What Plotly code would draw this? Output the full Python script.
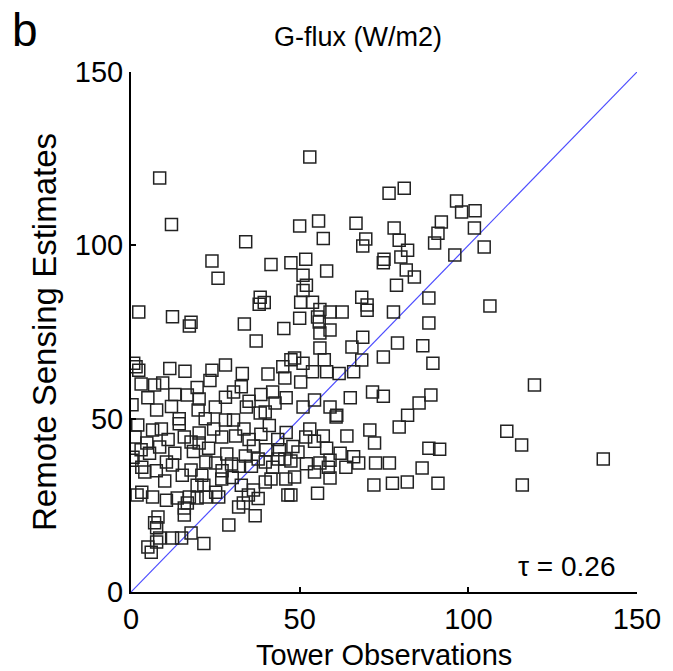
import plotly.graph_objects as go

# Tower observations (x) and remote sensing estimates (y), G-flux W/m2
tower_obs = [
    8.5, 53, 12, 34, 50, 55.6, 57, 66.7, 69.6, 68.7, 76.5, 81, 78, 79.5, 82, 75, 80, 96.5, 98, 102,
    92, 91, 90, 101.8, 104.7, 96, 24, 25.8, 41.5, 47.4, 51.8, 58, 51, 52, 51, 2.3, 12.3, 17.3, 17.8, 33.6,
    37.1, 38.3, 38, 39.5, 45.3, 50.3, 53.8, 50, 55.3, 56, 59, 62.6, 55.8, 59, 56, 68.4, 70, 70, 74.8, 81.6,
    84, 78.7, 88.3, 77.8, 88.3, 106.4, 119.6, 56, 65.5, 68.7, 68.4, 74.8, 79, 86.5, 89.5, 66, 57.3, 48.5, 51, 58,
    53.8, 50.3, 61.7, 65, 71.6, 74.8, 54.4, 51, 59, 61, 85.4, 88.9, 82, 111.4, 115.8, 116, 140, 79.5, 70.8, 72.2,
    88.3, 91.5, 86.3, 91, 60.8, 62, 67.5, 72.5, 76.6, 63.7, 72, 77.5, 81.9, 55.3, 59, 47.4, 54.4, 54.4, 48.5, 49.5,
    51.8, 59, 56, 2.3, 0.8, 1.5, 0.3, 16, 28, 7, 9.4, 19.6, 23.4, 16.7, 20.2, 7.6, 40.6, 45, 45.6, 47.4,
    42, 46, 28, 30.4, 32.7, 25, 34.2, 38.3, 39.8, 42.7, 14.3, 5, 6, 8.5, 7.6, 12.3, 15, 21.6, 17.8, 29,
    7, 8, 7.6, 36.8, 31.9, 33.3, 37.7, 46.5, 15.8, 15.8, 1.8, 3.2, 6.4, 10.5, 13.7, 16.7, 17.3, 19.6, 22.2, 25.1,
    26, 0.3, 0.6, 3.2, 4.1, 1.2, 2, 4.7, 6.4, 8.5, 10.5, 12.3, 14.3, 15.8, 17.8, 20.2, 20.2, 22.2, 17.8, 15.2,
    21, 25.1, 28, 30.4, 26.9, 28.4, 29.8, 31.9, 33.9, 36.3, 37.7, 39.8, 43.6, 45.6, 47.4, 41.5, 45.9, 32.7, 34.8, 36.3,
    39.8, 35.7, 26.9, 21.6, 19.6, 19.9, 5.5, 9, 11, 13, 18.5, 23, 24.5, 31, 33.5, 35, 38.5, 41, 43.5, 46,
    48, 40, 42, 44, 27, 30, 10, 7.5, 3, 12, 5, 3, 13, 22, 35, 38.5, 33, 24, 11.5, 53,
    57, 58, 64, 66, 58.5, 52,
]
remote_est = [
    119.4, 125.5, 106, 101, 105.6, 107, 102, 106.4, 101.8, 99.8, 115, 116.5, 105, 101.5, 98.6, 96, 96.6, 112.8, 109.6, 110,
    106.7, 103.5, 100.7, 105, 99.5, 97.2, 95.5, 90.5, 94.5, 95, 96, 92.6, 91.4, 88.5, 87, 80.8, 79.4, 76.7, 77.8, 77.3,
    72.4, 85, 83, 83.5, 76, 83.6, 83.6, 79, 79.3, 81.5, 80.8, 80.8, 77.9, 75.6, 74.7, 85, 82.8, 81.3, 95, 92.9,
    90.9, 88.5, 84.8, 80.8, 77.6, 82.5, 59.7, 70.4, 70.7, 73.5, 66.9, 67.8, 71.8, 71, 66, 63.5, 67, 67.5, 66, 63.5,
    63.5, 60.6, 63, 56, 57.7, 56.5, 55.4, 53.4, 53.4, 51, 54.5, 56.8, 51, 46.4, 42.4, 30.9, 38.4, 47.6, 46.7, 43,
    41.5, 41.2, 35.8, 31.4, 50.5, 40, 37.2, 37.2, 37.2, 36, 30.9, 31.4, 31.7, 28.5, 32.9, 28, 43.5, 34.6, 33.2, 40.4,
    44.7, 38, 37.2, 64, 66, 65, 54, 63.7, 65.5, 59.7, 60.3, 59, 61, 56.8, 55.7, 52.5, 62.9, 65, 61.7, 67,
    57.7, 56, 56.2, 57.7, 59.2, 53.4, 53.4, 51.6, 51.9, 54.5, 50, 13, 11.5, 15.6, 14.4, 15.6, 15.6, 14, 17, 19.3,
    20, 21.6, 18.5, 22, 24.5, 25.7, 27, 28, 22.2, 24.2, 28, 28.8, 27.4, 26.5, 27.1, 25.7, 27.4, 27.1, 27.4, 28.8,
    27.4, 38, 38.9, 36, 34.6, 44.7, 48.2, 43, 46.7, 41.8, 37.5, 36.6, 48.5, 44.7, 43.3, 45.9, 43, 37.5, 35.2, 33.7,
    33.7, 37.2, 49.6, 49.6, 44.7, 39.8, 36.9, 36.3, 39.2, 42.1, 38.4, 37.5, 38.4, 38.4, 37.8, 32.6, 32.6, 30.8, 28, 29.4,
    31.7, 36.3, 32.6, 30.8, 30.8, 52.5, 40, 47, 44, 40, 40.5, 41.5, 47, 45, 47, 44, 45.5, 48, 44, 46,
    42, 41, 36, 41, 35, 33, 32, 35, 41, 53.5, 56, 60, 57, 50, 55, 57, 63, 64, 64.5, 47,
    45, 41.5, 45, 39, 36, 37,
]
one_to_one = [0, 150]
x_ticks = [0, 50, 100, 150]
y_ticks = [0, 50, 100, 150]
title_text = "G-flux (W/m2)"
panel_label = "b"
tau_text = "\u03c4 = 0.26"
x_title = "Tower Observations"
y_title = "Remote Sensing Estimates"

FONT = "Liberation Sans, Arial, sans-serif"

fig = go.Figure()
fig.add_trace(go.Scatter(
    x=one_to_one, y=one_to_one, mode="lines",
    line=dict(color="#4d4dff", width=1.2), hoverinfo="skip", showlegend=False,
))
fig.add_trace(go.Scatter(
    x=tower_obs, y=remote_est, mode="markers",
    marker=dict(symbol="square-open", size=12, color="#222222", line=dict(width=1.5, color="#222222")),
    showlegend=False,
))

axis_common = dict(
    range=[0, 150], showgrid=False, zeroline=False, showline=True,
    linecolor="black", linewidth=2, ticks="inside", ticklen=5, tickwidth=1.5,
    tickcolor="black", tickfont=dict(family=FONT, size=29, color="black"),
    fixedrange=True,
)
fig.update_xaxes(tickvals=x_ticks, ticktext=[str(v) for v in x_ticks], **axis_common)
fig.update_yaxes(tickvals=y_ticks, ticktext=[str(v) for v in y_ticks], **axis_common)

fig.update_layout(
    width=673, height=671,
    margin=dict(l=131, r=28, t=72, b=79),
    plot_bgcolor="white", paper_bgcolor="white",
    font=dict(family=FONT, color="black"),
    annotations=[
        dict(text=title_text, xref="paper", yref="paper", x=0.5, y=1.0, xshift=-26, yshift=35,
             showarrow=False, font=dict(size=27, family=FONT, color="black"),
             xanchor="center", yanchor="middle"),
        dict(text=panel_label, xref="paper", yref="paper", x=0, y=1.0, xshift=-106, yshift=42,
             showarrow=False, font=dict(size=46, family=FONT, color="black"),
             xanchor="center", yanchor="middle"),
        dict(text=x_title, xref="paper", yref="paper", x=0.5, y=0, yshift=-63,
             showarrow=False, font=dict(size=29, family=FONT, color="black"),
             xanchor="center", yanchor="middle"),
        dict(text=y_title, xref="paper", yref="paper", x=0, y=0.5, xshift=-87,
             showarrow=False, textangle=-90, font=dict(size=33, family=FONT, color="black"),
             xanchor="center", yanchor="middle"),
        dict(text=tau_text, xref="paper", yref="paper", x=1, y=0, xshift=-20, yshift=26,
             showarrow=False, font=dict(size=28, family=FONT, color="black"),
             xanchor="right", yanchor="middle"),
    ],
)

fig.write_html(
    "out.html",
    config={"displayModeBar": False},
    post_script="document.body.style.margin='0';document.body.style.overflow='hidden';",
)
